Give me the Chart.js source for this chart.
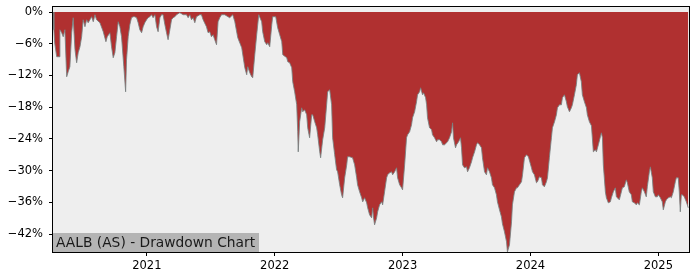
<!DOCTYPE html>
<html><head><meta charset="utf-8">
<script src="https://cdn.jsdelivr.net/npm/chart.js@4/dist/chart.umd.min.js"></script>
<style>html,body{margin:0;padding:0;background:#fff;}</style>
</head><body>
<canvas id="c" width="700" height="280"></canvas>
<script>
// Dates as decimal years
const dates = [
2020.266,2020.273,2020.279,2020.295,2020.315,2020.320,2020.334,2020.346,2020.359,2020.373,
2020.385,2020.398,2020.412,2020.424,2020.438,2020.451,2020.463,2020.477,2020.490,2020.502,
2020.516,2020.529,2020.541,2020.555,2020.568,2020.581,2020.594,2020.607,2020.633,2020.659,
2020.680,2020.690,2020.711,2020.724,2020.737,2020.750,2020.763,2020.776,2020.789,2020.802,
2020.820,2020.834,2020.841,2020.854,2020.867,2020.880,2020.893,2020.906,2020.920,2020.932,
2020.945,2020.959,2020.971,2020.984,2020.998,2021.010,2021.023,2021.037,2021.049,2021.063,
2021.076,2021.088,2021.102,2021.115,2021.127,2021.141,2021.154,2021.166,2021.180,2021.193,
2021.205,2021.219,2021.232,2021.258,2021.284,2021.310,2021.323,2021.336,2021.349,2021.362,
2021.375,2021.388,2021.414,2021.427,2021.440,2021.466,2021.479,2021.492,2021.505,2021.518,
2021.531,2021.545,2021.557,2021.570,2021.584,2021.609,2021.635,
2021.648,2021.672,2021.688,2021.711,2021.742,2021.766,2021.781,2021.789,2021.805,2021.820,
2021.828,2021.844,2021.859,2021.875,2021.898,2021.906,2021.922,2021.938,2021.945,2021.961,
2021.977,2021.984,2022.008,2022.023,2022.039,2022.055,2022.063,2022.094,2022.102,2022.117,
2022.133,2022.141,2022.156,2022.172,2022.180,2022.184,2022.195,2022.211,2022.219,2022.234,
2022.250,2022.258,2022.273,2022.289,2022.297,2022.313,2022.328,2022.336,2022.352,2022.359,
2022.375,2022.391,2022.406,2022.414,2022.430,2022.445,2022.453,2022.469,2022.484,2022.492,
2022.508,2022.523,2022.531,2022.547,2022.563,2022.570,2022.586,2022.609,2022.625,2022.641,
2022.648,2022.664,2022.680,2022.688,2022.703,2022.719,2022.727,2022.742,2022.758,2022.766,
2022.773,2022.781,2022.797,2022.805,2022.820,2022.836,2022.844,2022.859,2022.875,2022.883,
2022.898,2022.914,2022.922,2022.938,2022.953,2022.961,2022.977,2022.992,2023.000,2023.016,
2023.031,2023.039,2023.055,2023.070,2023.078,2023.094,2023.109,2023.117,2023.133,2023.141,
2023.156,2023.164,2023.180,2023.188,2023.195,2023.211,2023.227,2023.234,2023.250,2023.266,
2023.273,2023.289,2023.305,2023.313,2023.328,2023.344,2023.352,2023.367,2023.383,2023.391,
2023.398,2023.414,2023.422,2023.438,2023.453,2023.461,2023.469,2023.484,2023.500,2023.508,
2023.523,2023.539,2023.547,2023.563,2023.578,2023.586,2023.602,2023.617,2023.625,2023.641,
2023.656,2023.664,2023.680,2023.695,2023.703,2023.719,2023.734,2023.742,2023.758,2023.773,
2023.781,2023.797,2023.813,2023.820,2023.836,2023.852,2023.859,2023.875,2023.891,2023.898,
2023.914,2023.930,2023.938,2023.953,2023.969,2023.984,2024.008,2024.016,2024.031,2024.047,
2024.055,2024.070,2024.086,2024.094,2024.109,2024.125,2024.133,2024.148,2024.164,2024.172,
2024.188,2024.203,2024.211,2024.227,2024.242,2024.250,2024.266,2024.281,2024.289,2024.305,
2024.320,2024.328,2024.344,2024.359,2024.367,2024.383,2024.398,2024.406,2024.422,2024.438,
2024.445,2024.461,2024.477,2024.484,2024.492,2024.508,2024.516,2024.531,2024.547,2024.555,
2024.563,2024.570,2024.586,2024.594,2024.609,2024.625,2024.633,2024.648,2024.664,2024.672,
2024.680,2024.695,2024.711,2024.719,2024.734,2024.750,2024.758,2024.773,2024.789,2024.797,
2024.813,2024.828,2024.836,2024.852,2024.867,2024.875,2024.891,2024.906,2024.914,2024.930,
2024.938,2024.953,2024.961,2024.977,2024.992,2025.000,2025.016,2025.031,2025.039,2025.055,
2025.063,2025.078,2025.094,2025.102,2025.117,2025.133,2025.141,2025.156,2025.164,2025.172,
2025.180,2025.188,2025.203,2025.219,2025.227,2025.234
];
// Drawdown in percent
const drawdown = [
0,-3.35,-5.81,-8.46,-8.46,-3.35,-3.92,-4.68,-3.35,-12.25,
-11.30,-10.35,-3.92,-1.08,-7.14,-9.60,-7.70,-6.57,-4.68,-1.46,
-2.78,-1.46,-2.03,-1.46,-0.89,-1.84,-0.51,-1.46,-2.03,-3.73,
-5.62,-4.68,-3.92,-6.57,-8.65,-7.70,-4.68,-1.84,-2.78,-4.68,
-10.35,-15.09,-9.03,-4.68,-2.40,-1.08,-0.89,-0.89,-1.08,-2.03,
-3.35,-3.92,-2.78,-2.03,-1.46,-1.08,-0.89,-0.51,-1.08,-0.51,
-2.78,-3.73,-1.08,-0.51,-0.51,-2.40,-3.92,-5.24,-3.35,-1.46,
-1.08,-0.89,-0.51,-0.13,-0.51,-0.51,-1.08,-0.51,-1.46,-1.08,
-2.03,-0.89,-0.51,-0.51,-1.46,-2.78,-3.92,-3.73,-4.68,-4.30,
-5.24,-6.19,-1.84,-1.08,-0.51,-0.51,-0.89,
-1.08,-0.51,-1.84,-4.86,-6.76,-10.54,-11.87,-10.35,-11.49,-12.25,
-12.43,-8.08,-4.30,-0.51,-1.84,-3.73,-5.62,-6.19,-5.81,-6.57,
-2.40,-0.89,-0.89,-2.97,-4.30,-5.62,-8.08,-8.65,-9.41,-9.60,
-10.54,-13.19,-15.09,-17.55,-22.66,-26.45,-20.77,-18.12,-18.87,-18.50,
-19.44,-21.90,-23.79,-19.44,-19.44,-20.77,-21.90,-23.23,-26.45,-27.58,
-24.17,-21.90,-17.55,-15.09,-14.71,-17.55,-23.79,-27.01,-29.85,-30.23,
-32.69,-34.58,-35.15,-31.37,-28.91,-27.39,-27.39,-27.58,-28.91,-31.37,
-32.69,-34.02,-35.15,-35.91,-35.15,-36.10,-37.05,-38.37,-38.94,-37.05,
-38.94,-40.26,-38.94,-37.80,-36.48,-35.91,-36.48,-34.02,-31.37,-30.80,
-30.42,-30.23,-30.80,-30.23,-29.47,-31.37,-32.69,-33.26,-33.64,-28.91,
-23.79,-23.23,-22.66,-21.33,-20.01,-18.87,-16.98,-15.66,-15.09,-14.33,
-15.66,-15.28,-16.22,-17.55,-20.01,-21.90,-22.28,-23.23,-23.79,-24.55,
-24.17,-24.17,-24.55,-25.12,-25.12,-24.74,-24.55,-23.79,-22.66,-20.96,
-23.79,-25.69,-25.12,-24.55,-23.79,-25.69,-28.91,-29.47,-29.29,-30.23,
-29.47,-28.34,-27.58,-26.45,-25.12,-24.74,-25.12,-25.69,-27.58,-30.23,
-30.80,-29.47,-30.23,-31.37,-32.69,-33.26,-34.58,-35.91,-37.42,-38.75,
-40.07,-41.59,-43.48,-45.38,-44.05,-39.70,-36.48,-34.02,-33.26,-33.26,
-32.69,-32.12,-30.80,-27.58,-27.01,-27.39,-29.47,-30.23,-30.80,-32.31,
-32.12,-31.18,-31.37,-32.69,-33.07,-32.12,-31.37,-27.58,-23.79,-21.90,
-20.77,-19.44,-18.12,-17.55,-17.55,-16.22,-15.66,-16.98,-17.93,-18.87,
-18.12,-17.55,-15.66,-13.76,-11.87,-11.49,-13.19,-15.66,-16.98,-18.12,
-19.44,-20.77,-21.52,-23.79,-26.45,-26.07,-26.45,-25.12,-23.60,-22.85,
-23.79,-28.91,-34.02,-35.15,-36.10,-35.91,-35.15,-34.02,-33.26,-34.96,
-35.15,-35.53,-34.02,-33.26,-33.07,-31.75,-32.31,-34.02,-34.58,-35.91,
-36.10,-36.48,-36.10,-36.48,-34.02,-33.26,-34.02,-34.96,-33.07,-30.23,
-29.29,-31.37,-34.02,-34.96,-34.96,-34.58,-35.15,-35.91,-37.42,-35.91,
-35.53,-35.15,-34.96,-35.15,-34.02,-32.12,-31.37,-31.37,-34.02,-37.80,
-34.58,-34.58,-34.96,-35.91,-36.48,-37.05
];
const yearTicks = [2021, 2022, 2023, 2024, 2025];
const pctTicks = [0, -6, -12, -18, -24, -30, -36, -42];
const chartTitle = 'AALB (AS) - Drawdown Chart';

const FONT = 'DejaVu Sans';

const framePlugin = {
  id: 'frame',
  beforeDatasetsDraw(chart) {
    const a = chart.chartArea, ctx = chart.ctx;
    ctx.save();
    ctx.fillStyle = '#eeeeee';
    ctx.fillRect(a.left, a.top, a.right - a.left, a.bottom - a.top);
    ctx.restore();
  },
  afterDatasetsDraw(chart) {
    const a = chart.chartArea, ctx = chart.ctx;
    ctx.save();
    // label box
    ctx.fillStyle = '#b4b4b4';
    ctx.fillRect(a.left, a.bottom - 19, 206, 19);
    ctx.fillStyle = '#1a1a1a';
    ctx.font = '13.8px "' + FONT + '"';
    ctx.textBaseline = 'alphabetic';
    ctx.textAlign = 'left';
    ctx.fillText(chartTitle, a.left + 3, a.bottom - 5.5);
    // frame
    ctx.strokeStyle = '#000';
    ctx.lineWidth = 1;
    ctx.strokeRect(a.left - 0.5, a.top - 0.5, a.right - a.left + 1, a.bottom - a.top + 1);
    ctx.restore();
  }
};

new Chart(document.getElementById('c'), {
  type: 'line',
  data: {
    datasets: [{
      data: dates.map((d, i) => ({ x: d, y: drawdown[i] })),
      borderColor: 'rgba(120,128,128,0.85)',
      borderWidth: 1,
      backgroundColor: '#b03030',
      fill: { value: 0 },
      pointRadius: 0,
      tension: 0
    }]
  },
  options: {
    responsive: false,
    animation: false,
    devicePixelRatio: 1,
    layout: { padding: { top: 7, right: 11, left: 0, bottom: 0 } },
    plugins: { legend: { display: false }, tooltip: { enabled: false } },
    scales: {
      x: {
        type: 'linear',
        min: 2020.266,
        max: 2025.24,
        afterBuildTicks: s => { s.ticks = yearTicks.map(v => ({ value: v })); },
        afterFit: s => { s.height = 28; s.paddingLeft = 0; s.paddingRight = 0; },
        grid: { drawOnChartArea: false, drawTicks: true, tickLength: 4, color: '#000' },
        border: { display: false },
        ticks: {
          color: '#000', padding: 3, maxRotation: 0, autoSkip: false,
          font: { family: FONT, size: 11.5 },
          callback: v => String(v)
        }
      },
      y: {
        type: 'linear',
        min: -45.4,
        max: 0.95,
        afterBuildTicks: s => { s.ticks = pctTicks.map(v => ({ value: v })); },
        afterFit: s => { s.width = 53; s.paddingTop = 0; s.paddingBottom = 0; },
        grid: { drawOnChartArea: false, drawTicks: true, tickLength: 4, color: '#000' },
        border: { display: false },
        ticks: {
          color: '#000', padding: 6, autoSkip: false,
          font: { family: FONT, size: 11.5 },
          callback: v => (v < 0 ? '\u2212' + Math.abs(v) : String(v)) + '%'
        }
      }
    }
  },
  plugins: [framePlugin]
});
</script>
</body></html>
